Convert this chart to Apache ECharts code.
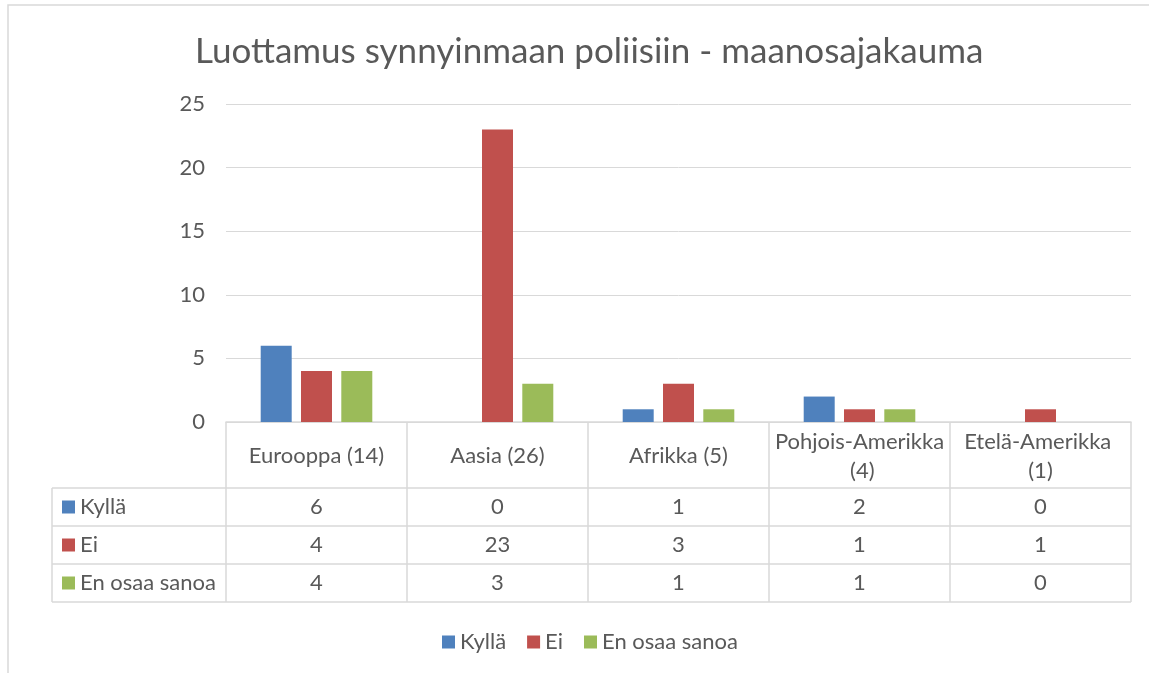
<!DOCTYPE html>
<html><head><meta charset="utf-8">
<script src="https://cdn.jsdelivr.net/npm/echarts@6/dist/echarts.min.js"></script>
<style>html,body{margin:0;padding:0;background:#fff}#c{width:1149px;height:673px}</style>
</head><body><div id="c"></div>
<script>
const title = 'Luottamus synnyinmaan poliisiin - maanosajakauma';
const categories = ['Eurooppa (14)', 'Aasia (26)', 'Afrikka (5)', 'Pohjois-Amerikka (4)', 'Etelä-Amerikka (1)'];
const seriesNames = ['Kyllä', 'Ei', 'En osaa sanoa'];
const kylla = [6, 0, 1, 2, 0];
const ei = [4, 23, 3, 1, 1];
const enOsaa = [4, 3, 1, 1, 0];
const yTicks = [0, 5, 10, 15, 20, 25];
const colors = ['#4f81bd', '#c0504d', '#9bbb59'];
const FONT = 'Lato';
const FS = 22;
const TXT = '#595959';
const LINE = '#d9d9d9';

const chart = echarts.init(document.getElementById('c'));
const values = [kylla, ei, enOsaa];
const option = {
  animation: false,
  textStyle: {fontFamily: FONT},
  title: {text: title, left: 190, top: 29,
    textStyle: {fontFamily: FONT, fontSize: 35, fontWeight: 'normal', color: TXT}},
  grid: {left: 226, right: 18, top: 104, bottom: 251, containLabel: false},
  legend: {top: 626, left: 437, icon: 'rect', itemWidth: 13, itemHeight: 13, itemGap: 21,
    textStyle: {fontFamily: FONT, fontSize: FS, color: TXT}, data: seriesNames},
  xAxis: {type: 'category', data: categories,
    axisLine: {lineStyle: {color: LINE, width: 1.5}},
    axisTick: {show: true, inside: false, length: 180, lineStyle: {color: LINE, width: 1.5}},
    axisLabel: {margin: 34, verticalAlign: 'middle', fontFamily: FONT, fontSize: FS, color: TXT,
      width: 172, overflow: 'break', lineHeight: 29, interval: 0}},
  yAxis: {type: 'value', min: yTicks[0], max: yTicks[yTicks.length-1], interval: 5,
    axisLine: {show: false}, axisTick: {show: false},
    splitLine: {lineStyle: {color: LINE, width: 1}},
    axisLabel: {margin: 21, fontFamily: FONT, fontSize: FS, color: TXT}},
  series: seriesNames.map((n, i) => ({name: n, type: 'bar', data: values[i], barWidth: 31, barGap: '30%',
    itemStyle: {color: colors[i]}}))
};
chart.setOption(option);

// data table below the category axis
const rowTop = 488, rowH = 38, tableLeft = 52, tableRight = 1131;
const g = [];
// chart border
g.push({type: 'rect', shape: {x: 8, y: 5, width: 1200, height: 700}, style: {fill: 'none', stroke: LINE, lineWidth: 1.5}, silent: true});
for (let r = 0; r <= 3; r++) {
  const y = rowTop + r * rowH;
  g.push({type: 'line', shape: {x1: tableLeft, y1: y, x2: tableRight, y2: y}, style: {stroke: LINE, lineWidth: 1.5}, silent: true});
}
g.push({type: 'line', shape: {x1: tableLeft, y1: rowTop, x2: tableLeft, y2: rowTop + 3 * rowH}, style: {stroke: LINE, lineWidth: 1.5}, silent: true});
seriesNames.forEach((n, r) => {
  const cy = rowTop + r * rowH + rowH / 2;
  g.push({type: 'rect', shape: {x: 62, y: cy - 6.5, width: 13, height: 13}, style: {fill: colors[r]}, silent: true});
  g.push({type: 'text', x: 80, y: cy, style: {text: n, fontFamily: FONT, fontSize: FS, fill: TXT, verticalAlign: 'middle', align: 'left'}, silent: true});
  values[r].forEach((v, c) => {
    const cx = chart.convertToPixel({xAxisIndex: 0}, categories[c]);
    g.push({type: 'text', x: cx, y: cy, style: {text: String(v), fontFamily: FONT, fontSize: FS, fill: TXT, verticalAlign: 'middle', align: 'center'}, silent: true});
  });
});
chart.setOption({graphic: g});
</script></body></html>
